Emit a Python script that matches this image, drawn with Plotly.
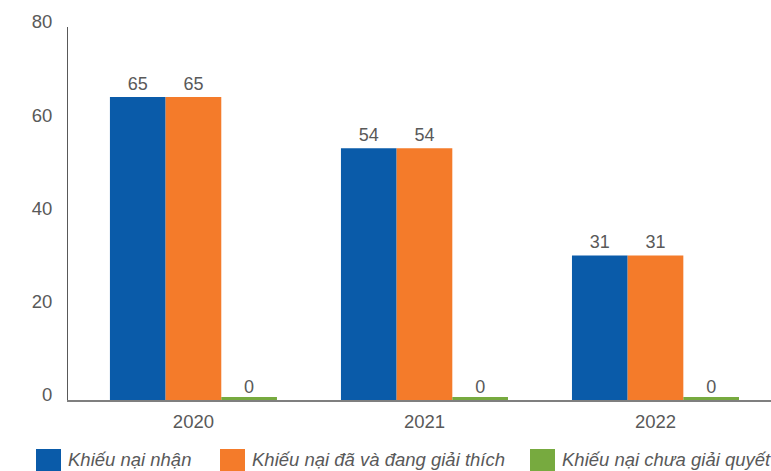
import plotly.graph_objects as go

years = ["2020", "2021", "2022"]
series_names = ["Khiếu nại nhận", "Khiếu nại đã và đang giải thích", "Khiếu nại chưa giải quyết"]
received = [65, 54, 31]
handled = [65, 54, 31]
unresolved = [0, 0, 0]
colors = ["#0A5BA9", "#F47B2A", "#77AA3F"]

FONT = "Liberation Sans, Arial, sans-serif"
TEXT_GRAY = "#595959"

fig = go.Figure()
for name, vals, col in zip(series_names, [received, handled, unresolved], colors):
    fig.add_trace(go.Bar(
        x=years, y=vals, name=name,
        marker=dict(color=col, line=dict(color=col, width=6 if max(vals) == 0 else 0)),
        text=[str(v) for v in vals], textposition="outside", cliponaxis=False,
        textfont=dict(size=18, color=TEXT_GRAY, family=FONT),
        showlegend=False,
    ))

# Legend drawn as colored squares with italic labels below the axis
legend_x_px = [36, 220, 530]
plot_left, plot_w = 68, 703
plot_bottom, plot_h = 400, 373
for xpx, name, col in zip(legend_x_px, series_names, colors):
    fig.add_shape(type="rect", xref="paper", yref="paper",
                  x0=(xpx - plot_left) / plot_w, x1=(xpx + 25 - plot_left) / plot_w,
                  y0=(plot_bottom - 449) / plot_h, y1=(plot_bottom - 475) / plot_h,
                  fillcolor=col, line=dict(width=0))
    fig.add_annotation(xref="paper", yref="paper",
                       x=(xpx + 31 - plot_left) / plot_w, y=(plot_bottom - 471) / plot_h,
                       xanchor="left", yanchor="bottom", showarrow=False,
                       borderpad=0,
                       text=f"<i>{name}</i>",
                       font=dict(size=18.5, color=TEXT_GRAY, family=FONT))

fig.update_layout(
    width=771, height=471,
    margin=dict(l=68, r=0, t=27, b=71),
    plot_bgcolor="white", paper_bgcolor="white",
    barmode="group", bargap=0.277, bargroupgap=0,
    font=dict(family=FONT, size=18, color=TEXT_GRAY),
    xaxis=dict(range=[-0.543, 2.5], showgrid=False, showline=True,
               linecolor="#7F7F7F", linewidth=1.5, ticks="", ticklabelstandoff=4,
               tickfont=dict(size=18.5, color=TEXT_GRAY)),
    yaxis=dict(range=[0, 80], tickvals=[0, 20, 40, 60, 80], showgrid=False,
               zeroline=False, showline=True, linecolor="#595959", linewidth=1,
               ticks="", ticklabelstandoff=11, ticklabelshift=-5,
               tickfont=dict(size=18.5, color=TEXT_GRAY)),
)

fig.write_html("out.html")
